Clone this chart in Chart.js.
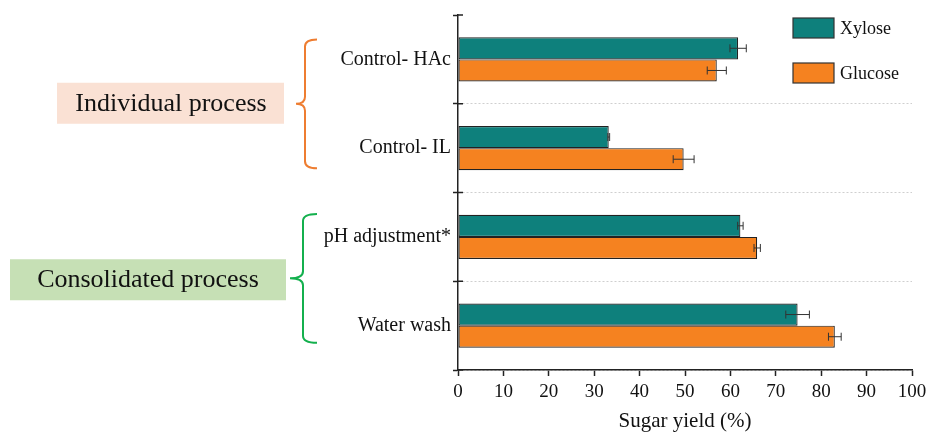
<!DOCTYPE html>
<html>
<head>
    <title>Sugar yield</title>
    <script src="https://cdn.jsdelivr.net/npm/chart.js"></script>
    <style>
        html, body { margin: 0; padding: 0; background: #fff; }
        #wrap { width: 927px; height: 434px; position: relative; }
    </style>
</head>
<body>
    <div id="wrap"><canvas id="sugarChart"></canvas></div>

    <script>
        // datos
        var categorias = ['Control- HAc', 'Control- IL', 'pH adjustment*', 'Water wash'];
        var xilosa = [61.7, 33.2, 62.2, 74.8];
        var xilosaErr = [1.8, 0.2, 0.6, 2.6];
        var glucosa = [57.0, 49.7, 65.9, 83.0];
        var glucosaErr = [2.1, 2.3, 0.7, 1.4];
        var grupos = ['Individual process', 'Consolidated process'];

        var fuente = '"Liberation Serif", "Times New Roman", serif';

        // barras de error
        var errorBars = {
            id: 'errorBars',
            afterDatasetsDraw: function (chart) {
                var ctx = chart.ctx;
                var xs = chart.scales.x;
                chart.data.datasets.forEach(function (ds, i) {
                    var meta = chart.getDatasetMeta(i);
                    meta.data.forEach(function (bar, j) {
                        var v = ds.data[j];
                        var e = ds.errores[j];
                        var x1 = xs.getPixelForValue(v - e);
                        var x2 = xs.getPixelForValue(v + e);
                        ctx.save();
                        ctx.strokeStyle = '#333';
                        ctx.lineWidth = 1;
                        ctx.beginPath();
                        ctx.moveTo(x1, bar.y); ctx.lineTo(x2, bar.y);
                        ctx.moveTo(x1, bar.y - 4); ctx.lineTo(x1, bar.y + 4);
                        ctx.moveTo(x2, bar.y - 4); ctx.lineTo(x2, bar.y + 4);
                        ctx.stroke();
                        ctx.restore();
                    });
                });
            }
        };

        function llave(ctx, xLinea, xPunta, xFin, yTop, yMid, yBot, color) {
            ctx.save();
            ctx.strokeStyle = color;
            ctx.lineWidth = 2;
            ctx.beginPath();
            ctx.moveTo(xFin, yTop);
            ctx.quadraticCurveTo(xLinea, yTop, xLinea, yTop + 7);
            ctx.lineTo(xLinea, yMid - 7);
            ctx.quadraticCurveTo(xLinea, yMid, xPunta, yMid);
            ctx.quadraticCurveTo(xLinea, yMid, xLinea, yMid + 7);
            ctx.lineTo(xLinea, yBot - 7);
            ctx.quadraticCurveTo(xLinea, yBot, xFin, yBot);
            ctx.stroke();
            ctx.restore();
        }

        // leyenda, grupos y llaves
        var extras = {
            id: 'extras',
            afterDraw: function (chart) {
                var ctx = chart.ctx;
                var ys = chart.scales.y;
                var xs = chart.scales.x;

                // marcas del eje y hacia dentro
                ctx.save();
                ctx.strokeStyle = '#222';
                ctx.lineWidth = 1.5;
                for (var k = 0; k <= categorias.length; k++) {
                    var yy = ys.getPixelForValue(k - 0.5);
                    ctx.beginPath();
                    ctx.moveTo(xs.left, yy);
                    ctx.lineTo(xs.left + 5, yy);
                    ctx.stroke();
                }
                ctx.restore();

                // leyenda
                chart.data.datasets.forEach(function (ds, i) {
                    var y0 = 18 + i * 45;
                    ctx.save();
                    ctx.fillStyle = ds.backgroundColor;
                    ctx.strokeStyle = '#333';
                    ctx.lineWidth = 1.2;
                    ctx.fillRect(793, y0, 41, 20);
                    ctx.strokeRect(793, y0, 41, 20);
                    ctx.fillStyle = '#111';
                    ctx.font = '18px ' + fuente;
                    ctx.textBaseline = 'middle';
                    ctx.fillText(ds.label, 840, y0 + 11);
                    ctx.restore();
                });

                // cajas de grupos
                var yA = ys.getPixelForValue(0.5);
                var yB = ys.getPixelForValue(2.5);
                ctx.save();
                ctx.fillStyle = '#fae1d4';
                ctx.fillRect(57, yA - 21, 227, 41);
                ctx.fillStyle = '#c6e0b5';
                ctx.fillRect(10, yB - 22, 276, 41);
                ctx.fillStyle = '#111';
                ctx.font = '26px ' + fuente;
                ctx.textAlign = 'center';
                ctx.textBaseline = 'middle';
                ctx.fillText(grupos[0], 171, yA);
                ctx.fillText(grupos[1], 148, yB - 1);
                ctx.restore();

                llave(ctx, 305, 296, 317, ys.getPixelForValue(0) - 20, yA, ys.getPixelForValue(1) + 20, '#ee7d31');
                llave(ctx, 303, 290, 317, ys.getPixelForValue(2) - 23, yB - 3, ys.getPixelForValue(3) + 17, '#14b04e');
            }
        };

        var ctx = document.getElementById('sugarChart').getContext('2d');

        var sugarChart = new Chart(ctx, {
            type: 'bar',
            data: {
                labels: categorias,
                datasets: [{
                    label: 'Xylose',
                    data: xilosa,
                    errores: xilosaErr,
                    backgroundColor: '#0e807c',
                    borderColor: '#222',
                    borderWidth: 1.2,
                    borderSkipped: false,
                    categoryPercentage: 0.5,
                    barPercentage: 1.0
                }, {
                    label: 'Glucose',
                    data: glucosa,
                    errores: glucosaErr,
                    backgroundColor: '#f58220',
                    borderColor: '#222',
                    borderWidth: 1.2,
                    borderSkipped: false,
                    categoryPercentage: 0.5,
                    barPercentage: 1.0
                }]
            },
            options: {
                indexAxis: 'y',
                responsive: true,
                maintainAspectRatio: false,
                animation: false,
                layout: { padding: { left: 0, top: 15, right: 15, bottom: 0 } },
                plugins: {
                    legend: { display: false },
                    tooltip: { enabled: false }
                },
                scales: {
                    x: {
                        min: 0,
                        max: 100,
                        ticks: {
                            stepSize: 10,
                            color: '#111',
                            font: { family: fuente, size: 19 },
                            padding: 5
                        },
                        grid: {
                            drawOnChartArea: false,
                            tickLength: 6,
                            tickColor: '#222',
                            tickWidth: 1.5
                        },
                        border: { color: '#222', width: 1.5 },
                        title: {
                            display: true,
                            text: 'Sugar yield (%)',
                            color: '#111',
                            font: { family: fuente, size: 21 },
                            padding: { top: 4, bottom: 0 }
                        },
                        afterFit: function (scale) {
                            scale.height = 64;
                            scale.paddingLeft = 0;
                            scale.paddingRight = 0;
                        }
                    },
                    y: {
                        ticks: {
                            color: '#111',
                            font: { family: fuente, size: 20 },
                            padding: 2
                        },
                        grid: {
                            offset: true,
                            color: function (c) { return c.index === 0 ? 'rgba(0,0,0,0)' : '#cfcfcf'; },
                            lineWidth: 1,
                            tickLength: 5,
                            tickColor: '#222',
                            tickWidth: 1.5,
                            tickBorderDash: []
                        },
                        border: { color: '#222', width: 1.5, dash: [2, 2] },
                        afterFit: function (scale) {
                            scale.width = 458;
                        }
                    }
                }
            },
            plugins: [errorBars, extras]
        });
    </script>
</body>
</html>
